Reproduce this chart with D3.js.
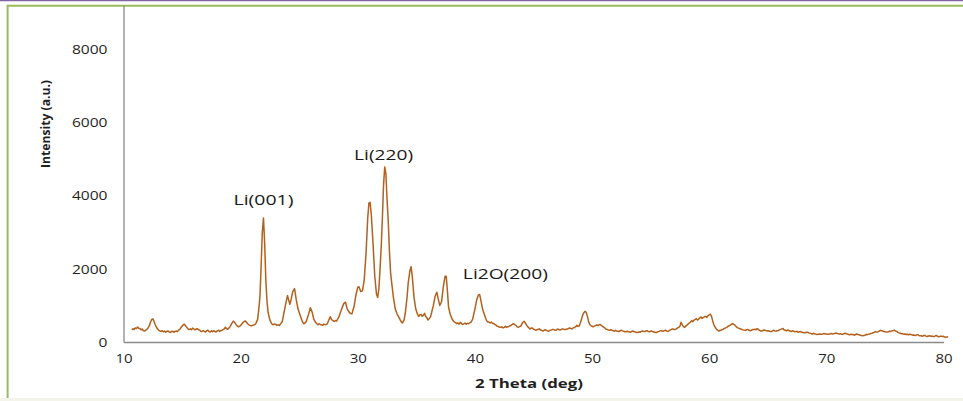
<!DOCTYPE html>
<html>
<head>
<meta charset="utf-8">
<script src="https://cdn.jsdelivr.net/npm/d3@7"></script>
<style>
  html, body { margin: 0; padding: 0; background: #ffffff; }
  svg { display: block; }
</style>
</head>
<body>
<svg id="chart" width="963" height="401"></svg>
<script>
// Axis ticks
const xTicks = [10, 20, 30, 40, 50, 60, 70, 80];
const yTicks = [0, 2000, 4000, 6000, 8000];

// Diffraction scan, [2θ (deg), intensity (a.u.)]
const scanLowAngle = [
  [10.7,333],[10.8,365],[10.9,340],[11.0,385],[11.1,365],[11.2,410],[11.3,375],[11.4,365],
  [11.5,335],[11.6,355],[11.7,305],[11.8,300],[11.9,325],[12.0,345],[12.1,385],[12.2,440],
  [12.3,540],[12.4,610],[12.5,635],[12.6,570],[12.7,480],[12.8,410],[12.9,360],[13.0,325],
  [13.1,305],[13.2,290],[13.3,310],[13.4,280],[13.5,300],[13.6,270],[13.7,295],[13.8,300],
  [13.9,275],[14.0,260],[14.1,290],[14.2,295],[14.3,265],[14.4,290],[14.5,300],[14.6,285],
  [14.7,325],[14.8,345],[14.9,390],[15.0,430],[15.1,470],[15.2,485],[15.3,440],[15.4,400],
  [15.5,360],[15.6,340],[15.7,360],[15.8,335],[15.9,380],[16.0,355],[16.1,330],[16.2,355],
  [16.3,365],[16.4,335],[16.5,325],[16.6,295],[16.7,290],[16.8,315],[16.9,290],[17.0,275],
  [17.1,305],[17.2,320],[17.3,285],[17.4,275],[17.5,305],[17.6,280],[17.7,310],[17.8,285],
  [17.9,275],[18.0,305],[18.1,320],[18.2,290],[18.3,310],[18.4,320],[18.5,340],[18.6,360],
  [18.7,405],[18.8,365],[18.9,350],[19.0,385],[19.1,420],[19.2,480],[19.3,540],[19.4,570],
  [19.5,530],[19.6,480],[19.7,445],[19.8,415],[19.9,430],[20.0,450],[20.1,495],[20.2,530],
  [20.3,560],[20.4,575],[20.5,540],[20.6,500],[20.7,470],[20.8,455],[20.9,440],[21.0,455],
  [21.1,465],[21.2,470],[21.3,510]
];

const scanLi001 = [
  [21.45,620],[21.55,900],[21.65,1250],[21.75,2100],[21.85,3000],[21.95,3390],[22.05,2700],
  [22.15,1700],[22.25,1100],[22.35,800],[22.5,600],[22.65,500],[22.75,470],[22.85,490],
  [23.0,480],[23.1,455],[23.2,470],[23.3,450],[23.4,490],[23.55,560],[23.7,800],[23.85,1050],
  [24.0,1270],[24.1,1150],[24.2,1030],[24.3,1150],[24.45,1380],[24.6,1460],[24.75,1150],
  [24.9,900],[25.05,760],[25.2,620],[25.3,540],[25.4,500],[25.5,520],[25.6,560],[25.8,760],
  [25.95,940],[26.1,820],[26.25,620],[26.4,540],[26.5,500],[26.6,470],[26.7,500],[26.8,480],
  [26.9,470],[27.0,455],[27.1,490],[27.2,475],[27.3,480],[27.4,500]
];

const scanLi220 = [
  [27.55,620],[27.65,690],[27.75,620],[27.85,590],[28.0,560],[28.1,590],[28.2,575],[28.4,700],
  [28.6,880],[28.8,1050],[28.95,1090],[29.1,900],[29.3,800],[29.4,780],[29.5,770],[29.7,1000],
  [29.85,1300],[30.0,1500],[30.1,1510],[30.25,1380],[30.4,1400],[30.55,1700],[30.7,2400],
  [30.85,3400],[30.95,3800],[31.05,3820],[31.15,3500],[31.3,2700],[31.45,1800],[31.6,1300],
  [31.7,1220],[31.8,1450],[31.9,2000],[32.0,2600],[32.1,3400],[32.2,4300],[32.3,4790],
  [32.4,4600],[32.5,3900],[32.6,3300],[32.7,2500],[32.8,1900],[32.9,1600],[33.05,1200],
  [33.2,900],[33.35,770],[33.5,680],[33.6,620],[33.7,560],[33.8,520],[33.95,600]
];

const scanMidAngle = [
  [34.05,780],[34.2,1200],[34.3,1600],[34.45,1950],[34.55,2060],[34.65,1800],[34.8,1220],
  [34.95,900],[35.1,760],[35.2,700],[35.3,740],[35.4,755],[35.5,705],[35.6,730],[35.7,785],
  [35.8,700],[35.9,660],[36.0,600],[36.1,640],[36.2,680],[36.3,800],[36.45,1000],[36.6,1250],
  [36.75,1360],[36.85,1200],[37.0,1000],[37.15,1100],[37.3,1500],[37.45,1800],[37.55,1800],
  [37.65,1400],[37.75,950],[37.9,750],[38.05,630],[38.15,580],[38.25,545],[38.35,530],
  [38.45,500],[38.55,520],[38.65,490],[38.75,540],[38.85,510],[38.95,480],[39.05,495],
  [39.15,520],[39.25,485],[39.35,510],[39.45,500],[39.55,525],[39.65,540],[39.8,620],
  [40.0,900],[40.15,1150],[40.3,1290],[40.4,1300],[40.5,1150],[40.65,900],[40.8,760],
  [40.95,620]
];

const scanTail41to51 = [
  [41.0,580],[41.1,550],[41.2,545],[41.3,520],[41.4,545],[41.5,515],[41.6,505],[41.7,480],
  [41.8,465],[41.9,430],[42.0,425],[42.1,400],[42.2,405],[42.3,420],[42.4,385],[42.5,400],
  [42.6,430],[42.7,400],[42.8,420],[42.9,425],[43.0,445],[43.1,460],[43.2,485],[43.3,500],
  [43.4,475],[43.5,455],[43.6,415],[43.7,400],[43.8,420],[43.9,430],[44.0,490],[44.1,540],
  [44.2,565],[44.3,520],[44.4,470],[44.5,420],[44.6,390],[44.7,355],[44.8,380],[44.9,385],
  [45.0,350],[45.1,340],[45.2,320],[45.3,340],[45.4,345],[45.5,360],[45.6,325],[45.7,320],
  [45.8,300],[45.9,320],[46.0,335],[46.1,315],[46.2,305],[46.3,295],[46.4,320],[46.5,325],
  [46.6,340],[46.7,345],[46.8,325],[46.9,320],[47.0,345],[47.1,355],[47.2,335],[47.3,330],
  [47.4,350],[47.5,360],[47.6,345],[47.7,340],[47.8,350],[47.9,355],[48.0,375],[48.1,385],
  [48.2,365],[48.3,360],[48.4,390],[48.5,400],[48.6,420],[48.7,455],[48.8,425],[48.9,440],
  [49.0,520],[49.1,620],[49.2,740],[49.3,800],[49.4,840],[49.5,810],[49.6,700],[49.7,560],
  [49.8,480],[49.9,450],[50.0,430],[50.1,415],[50.2,440],[50.3,445],[50.4,465],[50.5,450],
  [50.6,470],[50.7,480],[50.8,450],[50.9,430]
];

const scanHighAngle = [
  [51.0,400],[51.1,380],[51.2,350],[51.3,345],[51.4,325],[51.5,320],[51.6,340],[51.7,320],
  [51.8,310],[51.9,295],[52.0,320],[52.1,300],[52.2,295],[52.3,285],[52.4,310],[52.5,320],
  [52.6,305],[52.7,295],[52.8,280],[52.9,280],[53.0,300],[53.1,280],[53.2,275],[53.3,265],
  [53.4,295],[53.5,300],[53.6,280],[53.7,275],[53.8,260],[53.9,260],[54.0,280],[54.1,265],
  [54.2,290],[54.3,300],[54.4,290],[54.5,285],[54.6,305],[54.7,310],[54.8,285],[54.9,280],
  [55.0,300],[55.1,300],[55.2,280],[55.3,275],[55.4,260],[55.5,260],[55.6,280],[55.7,290],
  [55.8,305],[55.9,310],[56.0,300],[56.1,295],[56.2,315],[56.3,320],[56.4,295],[56.5,290],
  [56.6,315],[56.7,330],[56.8,350],[56.9,360],[57.0,340],[57.1,345],[57.2,360],[57.3,385],
  [57.4,400],[57.5,430],[57.6,540],[57.7,470],[57.8,420],[57.9,400],[58.0,435],[58.1,460],
  [58.2,495],[58.3,520],[58.4,545],[58.5,585],[58.6,555],[58.7,600],[58.8,615],[58.9,640],
  [59.0,600],[59.1,625],[59.2,660],[59.3,685],[59.4,645],[59.5,670],[59.6,695],[59.7,700],
  [59.8,675],[59.9,720],[60.0,740],[60.1,760],[60.2,700],[60.3,570],[60.4,470],[60.5,410],
  [60.6,360],[60.7,330],[60.8,300],[60.9,315],[61.0,320],[61.1,340],[61.2,350],[61.3,375],
  [61.4,385],[61.5,400],[61.6,425],[61.7,445],[61.8,460],[61.9,485],[62.0,500],[62.1,480],
  [62.2,460],[62.3,420],[62.4,395],[62.5,380],[62.6,370],[62.7,355],[62.8,345],[62.9,330],
  [63.0,325],[63.1,315],[63.2,335],[63.3,345],[63.4,320],[63.5,310],[63.6,320],[63.7,340],
  [63.8,345],[63.9,350],[64.0,335],[64.1,365],[64.2,345],[64.3,320],[64.4,300],[64.5,300],
  [64.6,320],[64.7,330],[64.8,315],[64.9,310],[65.0,300],[65.1,305],[65.2,285],[65.3,285],
  [65.4,305],[65.5,320],[65.6,305],[65.7,295],[65.8,310],[65.9,315],[66.0,330],[66.1,345],
  [66.2,360],[66.3,370],[66.4,330],[66.5,320],[66.6,305],[66.7,330],[66.8,315],[66.9,300],
  [67.0,285],[67.1,305],[67.2,300],[67.3,280],[67.4,285],[67.5,290],[67.6,265],[67.7,280],
  [67.8,285],[67.9,265],[68.0,260],[68.1,250],[68.2,255],[68.3,265],[68.4,270],[68.5,250],
  [68.6,240],[68.7,230],[68.8,215],[68.9,240],[69.0,225],[69.1,215],[69.2,200],[69.3,215],
  [69.4,220],[69.5,210],[69.6,215],[69.7,220],[69.8,235],[69.9,220],[70.0,220],[70.1,210],
  [70.2,215],[70.3,220],[70.4,235],[70.5,220],[70.6,225],[70.7,230],[70.8,245],[70.9,230],
  [71.0,230],[71.1,215],[71.2,230],[71.3,210],[71.4,210],[71.5,230],[71.6,240],[71.7,225],
  [71.8,220],[71.9,205],[72.0,200],[72.1,210],[72.2,205],[72.3,200],[72.4,185],[72.5,205],
  [72.6,220],[72.7,205],[72.8,200],[72.9,185],[73.0,180],[73.1,170],[73.2,175],[73.3,185],
  [73.4,205],[73.5,200],[73.6,215],[73.7,220],[73.8,235],[73.9,240],[74.0,255],[74.1,265],
  [74.2,285],[74.3,270],[74.4,275],[74.5,295],[74.6,320],[74.7,305],[74.8,300],[74.9,285],
  [75.0,280],[75.1,270],[75.2,275],[75.3,280],[75.4,295],[75.5,290],[75.6,305],[75.7,310],
  [75.8,325],[75.9,300],[76.0,290],[76.1,265],[76.2,250],[76.3,240],[76.4,225],[76.5,230],
  [76.6,215],[76.7,220],[76.8,205],[76.9,210],[77.0,200],[77.1,210],[77.2,205],[77.3,200],
  [77.4,185],[77.5,190],[77.6,175],[77.7,195],[77.8,200],[77.9,180],[78.0,170],[78.1,170],
  [78.2,155],[78.3,175],[78.4,180],[78.5,160],[78.6,150],[78.7,165],[78.8,170],[78.9,160],
  [79.0,165],[79.1,150],[79.2,150],[79.3,170],[79.4,180],[79.5,155],[79.6,140],[79.7,155],
  [79.8,160],[79.9,150],[80.0,155],[80.1,135],[80.2,130],[80.3,140],[80.4,140]
];

// Reflection labels
const peakNames = ["Li(001)", "Li(220)", "Li2O(200)"];
const peakAngles = [21.95, 32.2, 42.6];
const peakLabelIntensity = [3750, 4990, 1710];
const peakLabelWidths = [60, 59, 85];

const scan = [].concat(scanLowAngle, scanLi001, scanLi220, scanMidAngle, scanTail41to51, scanHighAngle);

const svg = d3.select("#chart");

// Outer frame
svg.append("rect").attr("x", 0).attr("y", 0).attr("width", 963).attr("height", 401).attr("fill", "#ffffff");
svg.append("line").attr("x1", 0).attr("x2", 963).attr("y1", 0.6).attr("y2", 0.6)
  .attr("stroke", "#8064a2").attr("stroke-width", 1.2);
svg.append("rect").attr("x", 0).attr("y", 398).attr("width", 963).attr("height", 3).attr("fill", "#f4f4ea");
svg.append("line").attr("x1", 7.5).attr("x2", 963).attr("y1", 5.8).attr("y2", 5.8)
  .attr("stroke", "#9bbb59").attr("stroke-width", 2);
svg.append("line").attr("x1", 7.6).attr("x2", 7.6).attr("y1", 4.8).attr("y2", 398)
  .attr("stroke", "#9bbb59").attr("stroke-width", 2);

const x = d3.scaleLinear().domain([10, 80]).range([123.5, 943.5]);
const y = d3.scaleLinear().domain([0, 9220]).range([342, 5]);

const tickFont = "'Open Sans', 'DejaVu Sans', sans-serif";

// X axis
const xAxis = svg.append("g").attr("transform", `translate(0,${y(0)})`)
  .call(d3.axisBottom(x).tickValues(xTicks).tickSize(0).tickPadding(12).tickFormat(d3.format("d")));
xAxis.select(".domain").attr("stroke", "#8a8a8a").attr("stroke-width", 1.3);
xAxis.selectAll("text")
  .attr("font-family", tickFont).attr("font-size", 13).attr("font-weight", 500).attr("fill", "#1f1f1f")
  .attr("dy", "0.71em")
  .attr("textLength", d => String(d).length * 8.6).attr("lengthAdjust", "spacingAndGlyphs");

// Y axis
const yAxis = svg.append("g").attr("transform", `translate(${x(10)},0)`)
  .call(d3.axisLeft(y).tickValues(yTicks).tickSize(0).tickPadding(16).tickFormat(d3.format("d")));
yAxis.select(".domain").attr("stroke", "#8a8a8a").attr("stroke-width", 1.3);
yAxis.selectAll("text")
  .attr("font-family", tickFont).attr("font-size", 13).attr("font-weight", 500).attr("fill", "#1f1f1f")
  .attr("textLength", d => String(d).length * 8.9).attr("lengthAdjust", "spacingAndGlyphs");

// Axis titles
svg.append("text")
  .attr("transform", `translate(50,124) rotate(-90)`)
  .attr("text-anchor", "middle")
  .attr("font-family", tickFont).attr("font-weight", "bold").attr("font-size", 11.5)
  .attr("fill", "#1f1f1f")
  .attr("textLength", 88).attr("lengthAdjust", "spacingAndGlyphs")
  .text("Intensity (a.u.)");

svg.append("text")
  .attr("x", 529).attr("y", 388)
  .attr("text-anchor", "middle")
  .attr("font-family", tickFont).attr("font-weight", "bold").attr("font-size", 12.5)
  .attr("fill", "#1f1f1f")
  .attr("textLength", 108).attr("lengthAdjust", "spacingAndGlyphs")
  .text("2 Theta (deg)");

// Diffraction pattern
const line = d3.line().x(d => x(d[0])).y(d => y(d[1]));
svg.append("path")
  .datum(scan)
  .attr("d", line)
  .attr("fill", "none")
  .attr("stroke", "#b3611c")
  .attr("stroke-width", 1.5)
  .attr("stroke-linejoin", "round");

// Peak labels
svg.selectAll("text.peak")
  .data(peakNames)
  .enter().append("text")
  .attr("class", "peak")
  .attr("x", (d, i) => x(peakAngles[i]))
  .attr("y", (d, i) => y(peakLabelIntensity[i]))
  .attr("text-anchor", "middle")
  .attr("font-family", tickFont).attr("font-size", 15)
  .attr("fill", "#1a1a1a")
  .attr("textLength", (d, i) => peakLabelWidths[i]).attr("lengthAdjust", "spacingAndGlyphs")
  .text(d => d);
</script>
</body>
</html>
